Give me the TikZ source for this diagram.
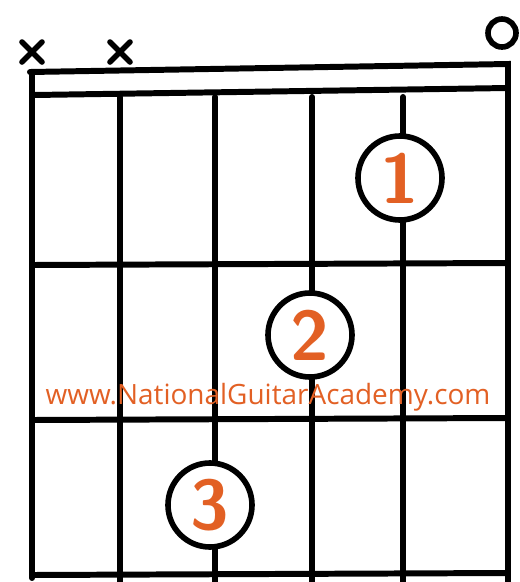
\documentclass[tikz,border=0pt]{standalone}
\usepackage{fontspec}
\newfontfamily\sitefont{Open Sans}
\definecolor{fingerorange}{RGB}{226,96,36}
\tikzset{
  fretline/.style={line width=3.4pt, line cap=round},
  finger/.style={circle, draw, line width=3.2pt, fill=white, minimum size=84*0.02cm,
    inner sep=0pt, text=fingerorange, font=\sffamily\bfseries\fontsize{40}{40}\selectfont},
  mute/.style={line width=3.2pt, line cap=round}
}
\begin{document}
\begin{tikzpicture}[x=0.02cm, y=-0.02cm]
    \useasboundingbox (0,0) rectangle (520,582);

    % Nut
    \draw[fretline] (30,72) -- (508,64) -- (508,582);
    \draw[fretline] (34,95) -- (508,88);
    \draw[fretline] (32,72) -- (32,578);

    % Frets
    \foreach \y in {265,420,575}
        \draw[fretline] (32,\y) -- (508,\y-2);

    % Strings
    \foreach \x in {120,215,312,403}
        \draw[fretline] (\x,97) -- (\x,582);

    % Muted and open strings
    \foreach \x in {32,120} {
        \draw[mute] (\x-10,42) -- (\x+10,62);
        \draw[mute] (\x-10,62) -- (\x+10,42);
    }
    \draw[line width=3.2pt] (502,33) circle (14);

    % Fingers
    \node[finger] (f1) at (400,178) {1};
    \node[finger] (f2) at (310,335) {2};
    \node[finger] (f3) at (210,505) {3};

    % Site label
    \node[text=fingerorange, font=\sitefont\fontsize{15.9}{16}\selectfont] (site) at (268,397) {www.NationalGuitarAcademy.com};
\end{tikzpicture}
\end{document}
